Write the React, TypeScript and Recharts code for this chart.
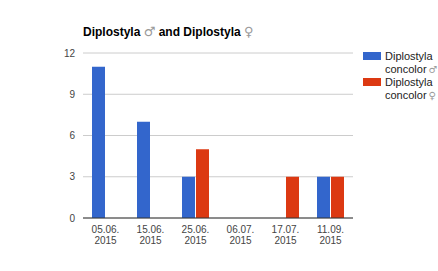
import React from "react";
import { BarChart, Bar, XAxis, YAxis, CartesianGrid } from "recharts";

const categories = ["05.06. 2015", "15.06. 2015", "25.06. 2015", "06.07. 2015", "17.07. 2015", "11.09. 2015"];
const maleValues = [11, 7, 3, 0, 0, 3];
const femaleValues = [0, 0, 5, 0, 3, 3];
const yTicks = [0, 3, 6, 9, 12];
const seriesNames = ["Diplostyla concolor♂", "Diplostyla concolor♀"];
const seriesLegendLines = [["Diplostyla", "concolor", "♂"], ["Diplostyla", "concolor", "♀"]];
const seriesColors = ["#3366cc", "#dc3912"];
const titleParts = ["Diplostyla ", "♂", " and Diplostyla ", "♀"];

const data = categories.map((c, i) => ({ cat: c, male: maleValues[i], female: femaleValues[i] }));

const FONT = "Arial, 'Liberation Sans', sans-serif";
const SYM: React.CSSProperties = { fontFamily: "'DejaVu Sans', sans-serif", fontWeight: "normal", color: "#9a9a9a", fontSize: 13 };

const XTick = (props: any) => {
  const { x, y, payload } = props;
  const parts = String(payload.value).split(" ");
  return (
    <text x={x} y={y} textAnchor="middle" fill="#444444" fontSize={10} fontFamily={FONT}>
      <tspan x={x} dy="0.71em">{parts[0]}</tspan>
      <tspan x={x} dy={11}>{parts[1]}</tspan>
    </text>
  );
};

export default function App() {
  return (
    <div style={{ position: "absolute", left: 0, top: 0, width: 438, height: 271, background: "#fff", fontFamily: FONT, overflow: "hidden" }}>
      <div style={{ position: "absolute", left: 83, top: 25, fontSize: 12, fontWeight: "bold", color: "#000", whiteSpace: "nowrap", lineHeight: "14px" }}>
        {titleParts[0]}
        <span style={SYM}>{titleParts[1]}</span>
        {titleParts[2]}
        <span style={SYM}>{titleParts[3]}</span>
      </div>
      <BarChart
        width={438}
        height={271}
        data={data}
        margin={{ top: 53, right: 85, bottom: 23, left: 0 }}
        barSize={13}
        barGap={1}
      >
        <CartesianGrid vertical={false} stroke="#cccccc" />
        <XAxis
          dataKey="cat"
          height={30}
          tick={<XTick />}
          tickLine={false}
          axisLine={{ stroke: "#333333" }}
          interval={0}
        />
        <YAxis
          width={83}
          domain={[0, 12]}
          ticks={yTicks}
          axisLine={false}
          tickLine={false}
          tick={{ fill: "#444444", fontSize: 10, fontFamily: FONT }}
        />
        <Bar dataKey="male" name={seriesNames[0]} fill={seriesColors[0]} isAnimationActive={false} />
        <Bar dataKey="female" name={seriesNames[1]} fill={seriesColors[1]} isAnimationActive={false} />
      </BarChart>
      {seriesLegendLines.map((lines, i) => (
        <div key={i} style={{ position: "absolute", left: 363, top: 52 + i * 26, width: 75 }}>
          <div style={{ position: "absolute", left: 0, top: 0, width: 18, height: 8, background: seriesColors[i] }} />
          <div style={{ position: "absolute", left: 22, top: -2, fontSize: 11, color: "#222222", lineHeight: "13px", whiteSpace: "nowrap" }}>
            <div>{lines[0]}</div>
            <div>
              {lines[1]}
              <span style={{ ...SYM, fontSize: 10, marginLeft: 2 }}>{lines[2]}</span>
            </div>
          </div>
        </div>
      ))}
    </div>
  );
}
